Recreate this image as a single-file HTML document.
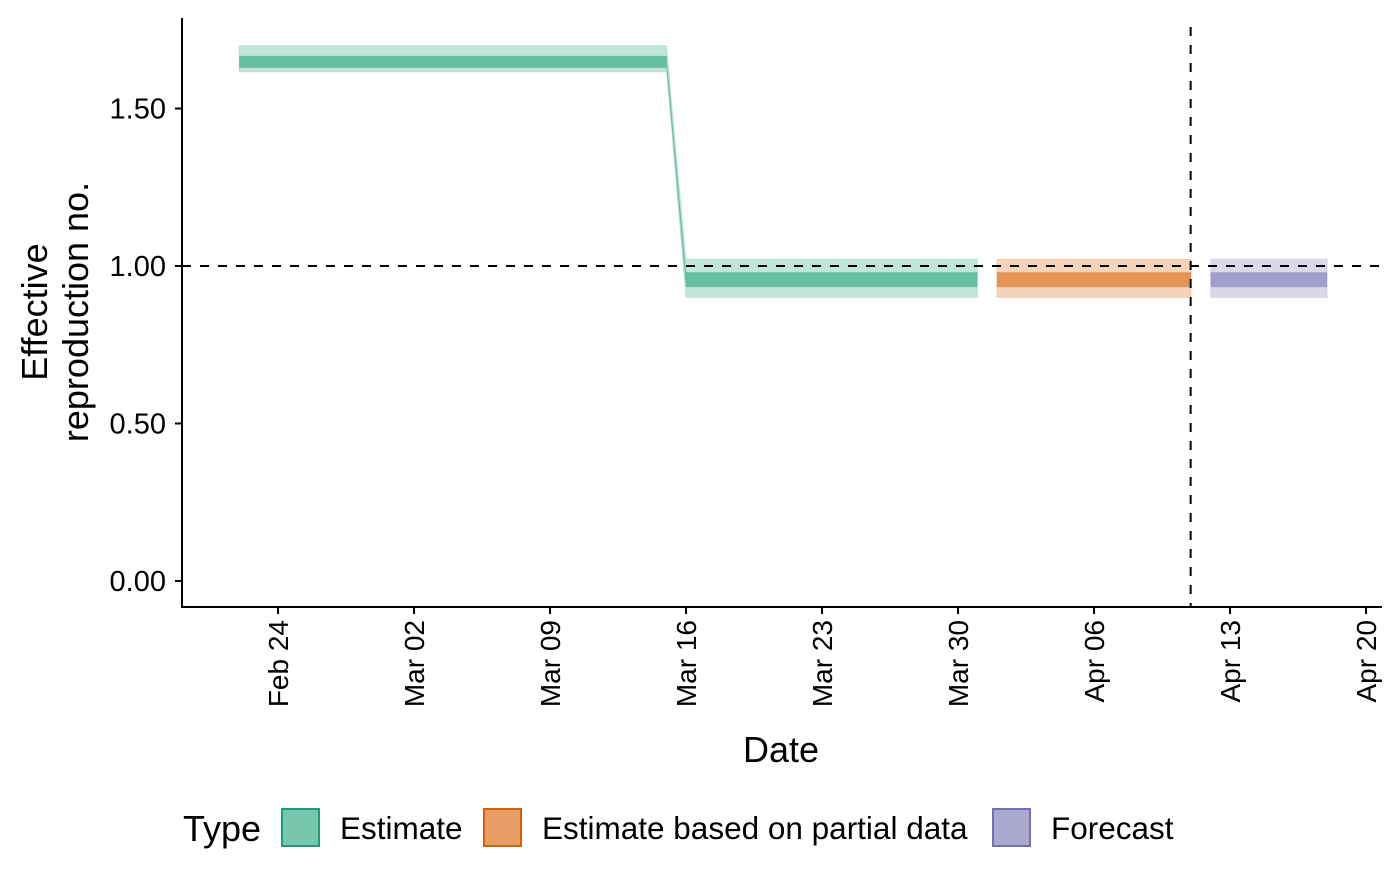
<!DOCTYPE html>
<html><head><meta charset="utf-8"><style>
body{margin:0;background:#fff}
svg{font-family:"Liberation Sans",Arial,sans-serif}
</style></head><body>
<svg id="chart" width="1400" height="866" viewBox="0 0 1400 866">
<g id="plot"></g>
</svg>
<script>
const segDates=[["2020-02-22","2020-03-15","2020-03-16","2020-03-31"],["2020-04-01","2020-04-11"],["2020-04-12","2020-04-18"]];
const segTypes=["Estimate","Estimate based on partial data","Forecast"];
const lower90=[[1.616,1.616,0.90,0.90],[0.90,0.90],[0.90,0.90]];
const upper90=[[1.70,1.70,1.022,1.022],[1.022,1.022],[1.022,1.022]];
const lower50=[[1.629,1.629,0.933,0.933],[0.933,0.933],[0.933,0.933]];
const upper50=[[1.667,1.667,0.98,0.98],[0.98,0.98],[0.98,0.98]];
const yTicks=[0,0.5,1,1.5];
const yTickLabels=["0.00","0.50","1.00","1.50"];
const xTickDates=["2020-02-24","2020-03-02","2020-03-09","2020-03-16","2020-03-23","2020-03-30","2020-04-06","2020-04-13","2020-04-20"];
const xTickLabels=["Feb 24","Mar 02","Mar 09","Mar 16","Mar 23","Mar 30","Apr 06","Apr 13","Apr 20"];
const forecastDate="2020-04-11";
const refLine=1;

const colors={"Estimate":"#1b9e77","Estimate based on partial data":"#d95f02","Forecast":"#7570b3"};
const NS="http://www.w3.org/2000/svg";
const g=document.getElementById('plot');
const t0=Date.UTC(2020,1,24);
function day(s){const p=s.split('-');return (Date.UTC(+p[0],p[1]-1,+p[2])-t0)/86400000;}
function x(s){return 278+day(s)*136/7;}
function y(v){return 581-315*v;}
function el(tag,attrs,parent){const e=document.createElementNS(NS,tag);for(const k in attrs)e.setAttribute(k,attrs[k]);(parent||g).appendChild(e);return e;}
function ribbon(dates,lo,hi){let d="";dates.forEach((dt,i)=>{d+=(i?"L":"M")+x(dt)+","+y(hi[i]);});for(let i=dates.length-1;i>=0;i--)d+="L"+x(dates[i])+","+y(lo[i]);return d+"Z";}

segDates.forEach((dates,s)=>{
  const c=colors[segTypes[s]];
  const p1=el('path',{d:ribbon(dates,lower90[s],upper90[s]),fill:c,'fill-opacity':0.27,stroke:c,'stroke-opacity':0.15,'stroke-width':1});
  
  
  const p2=el('path',{d:ribbon(dates,lower50[s],upper50[s]),fill:c,'fill-opacity':0.55});
  
  
});

const hl=el('line',{x1:182,x2:1380,y1:y(refLine),y2:y(refLine),stroke:'#000','stroke-width':2,'stroke-dasharray':'9,9'});


const vl=el('line',{x1:x(forecastDate)-0.5,x2:x(forecastDate)-0.5,y1:27,y2:607,stroke:'#000','stroke-width':2,'stroke-dasharray':'9,9'});



const ya=el('line',{x1:182,x2:182,y1:18,y2:607.5,stroke:'#000','stroke-width':2});


const xa=el('line',{x1:181,x2:1382,y1:607,y2:607,stroke:'#000','stroke-width':2});



yTicks.forEach((v,i)=>{
  const tk=el('line',{x1:175,x2:182,y1:y(v),y2:y(v),stroke:'#000','stroke-width':2});
  
  
  const t=el('text',{x:166,y:y(v)+10,'text-anchor':'end','font-size':29,fill:'#000'});
  t.textContent=yTickLabels[i];
  
  
});
xTickDates.forEach((d,i)=>{
  const xx=x(d);
  const tk=el('line',{x1:xx,x2:xx,y1:607,y2:614,stroke:'#000','stroke-width':2});
  
  
  const t=el('text',{x:0,y:0,'text-anchor':'end','font-size':28,fill:'#000',transform:`translate(${xx+10},620) rotate(-90)`});
  t.textContent=xTickLabels[i];
  
  
});

const xt=el('text',{x:781,y:762,'text-anchor':'middle','font-size':36,fill:'#000'});
xt.textContent='Date';


const yt=el('text',{transform:'translate(0,312) rotate(-90)','text-anchor':'middle','font-size':36,fill:'#000'});


const ts1=el('tspan',{x:0,y:47},yt);ts1.textContent='Effective';
const ts2=el('tspan',{x:0,y:88},yt);ts2.textContent='reproduction no.';

const lg=el('g',{});


const lt=el('text',{x:183,y:841,'font-size':36,fill:'#000'},lg);
lt.textContent='Type';


const keyX=[282,484,993];
segTypes.forEach((tp,i)=>{
  const c=colors[tp];
  const r=el('rect',{x:keyX[i],y:809,width:37,height:37,fill:c,'fill-opacity':0.6,stroke:c,'stroke-width':2},lg);
  
  
  const t=el('text',{x:keyX[i]+58,y:839,'font-size':31.5,fill:'#000'},lg);
  t.textContent=tp;
  
  
});
</script>
</body></html>
